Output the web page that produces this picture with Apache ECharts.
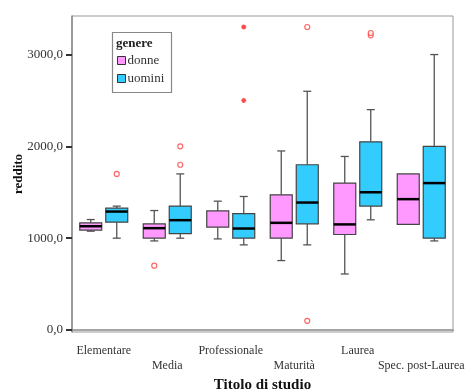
<!DOCTYPE html>
<html><head><meta charset="utf-8">
<script src="https://cdn.jsdelivr.net/npm/echarts@6/dist/echarts.min.js"></script>
<style>html,body{margin:0;padding:0;background:#fff}#c{width:470px;height:390px}</style>
</head><body><div id="c"></div>
<script>
var categories = ['Elementare','Media','Professionale','Maturità','Laurea','Spec. post-Laurea'];
// [min, Q1, median, Q3, max]
var donneBox = [
  [1076, 1087, 1130, 1166, 1203],
  [970, 1000, 1109, 1156, 1301],
  [992, 1120, 1297, 1297, 1403],
  [756, 1000, 1167, 1472, 1950],
  [610, 1040, 1150, 1600, 1890],
  [1150, 1150, 1425, 1700, 1700]
];
var uominiBox = [
  [1000, 1174, 1290, 1327, 1349],
  [1000, 1050, 1196, 1350, 1700],
  [927, 1000, 1105, 1268, 1454],
  [927, 1156, 1388, 1800, 2600],
  [1200, 1350, 1500, 2050, 2400],
  [970, 1000, 1600, 2000, 3000]
];
var donneOutliers = [[1, 700]];
var uominiOutliers = [[0, 1700], [1, 2000], [1, 1800], [3, 3300], [3, 100], [4, 3210], [4, 3235]];
var uominiExtremes = [[2, 3300], [2, 2500]];
var yTicks = [0, 1000, 2000, 3000];

var serif = '"Liberation Serif", "DejaVu Serif", serif';
var pink = '#ff99ff', cyan = '#33ccff';
var OFF = 13, HALF = 11, CAP = 4;

function boxRender(offset, fill) {
  return function (params, api) {
    var c = api.value(0);
    var x = api.coord([c, 0])[0] + offset;
    var lo = api.coord([c, api.value(1)])[1];
    var q1 = api.coord([c, api.value(2)])[1];
    var md = api.coord([c, api.value(3)])[1];
    var q3 = api.coord([c, api.value(4)])[1];
    var hi = api.coord([c, api.value(5)])[1];
    var ws = {stroke: '#555', lineWidth: 1.3};
    var ch = [];
    if (Math.abs(lo - q1) > 0.5) {
      ch.push({type: 'line', shape: {x1: x, y1: q1, x2: x, y2: lo}, style: ws});
      ch.push({type: 'line', shape: {x1: x - CAP, y1: lo, x2: x + CAP, y2: lo}, style: ws});
    }
    if (Math.abs(hi - q3) > 0.5) {
      ch.push({type: 'line', shape: {x1: x, y1: q3, x2: x, y2: hi}, style: ws});
      ch.push({type: 'line', shape: {x1: x - CAP, y1: hi, x2: x + CAP, y2: hi}, style: ws});
    }
    ch.push({type: 'rect', shape: {x: x - HALF, y: q3, width: 2 * HALF, height: q1 - q3},
      style: {fill: fill, stroke: '#444', lineWidth: 1.2}});
    if (Math.abs(md - q3) > 0.5 && Math.abs(md - q1) > 0.5) {
      ch.push({type: 'line', shape: {x1: x - HALF, y1: md, x2: x + HALF, y2: md},
        style: {stroke: '#000', lineWidth: 2.5}});
    }
    return {type: 'group', children: ch};
  };
}

function toData(arr) { return arr.map(function (r, i) { return [i].concat(r); }); }

var chart = echarts.init(document.getElementById('c'), null, {renderer: 'canvas'});
chart.setOption({
  animation: false,
  backgroundColor: '#fff',
  grid: {left: 72, right: 17, top: 16, bottom: 58, show: true, borderColor: '#999', borderWidth: 1,
    containLabel: false, outerBoundsMode: 'none'},
  legend: {
    data: [{name: 'donne', icon: 'rect'}, {name: 'uomini', icon: 'rect'}],
    orient: 'vertical', left: 117, top: 53.5, itemWidth: 8, itemHeight: 8, itemGap: 4,
    padding: 0,
    selectedMode: false,
    textStyle: {fontFamily: serif, fontSize: 13, lineHeight: 14, color: '#333', padding: [0, 0, 0, -3]},
    itemStyle: {borderColor: '#333', borderWidth: 1}
  },
  graphic: [
    {type: 'rect', left: 110, top: 30, shape: {width: 59, height: 60}, style: {fill: 'none', stroke: '#888', lineWidth: 1.2}, z: 10},
    {type: 'text', left: 116, top: 37, style: {text: 'genere', font: 'bold 13px ' + serif, fill: '#222'}, z: 10}
  ],
  xAxis: {
    type: 'category', data: categories, boundaryGap: true,
    name: 'Titolo di studio', nameLocation: 'middle', nameGap: 46, nameMoveOverlap: false,
    nameTextStyle: {fontFamily: serif, fontSize: 15, fontWeight: 'bold', color: '#111'},
    axisLine: {lineStyle: {color: '#888', width: 1.5}},
    axisTick: {alignWithLabel: true, interval: 0, length: 5, lineStyle: {color: '#333', width: 2}},
    axisLabel: {interval: 0, margin: 11, fontFamily: serif, fontSize: 12, color: '#333', lineHeight: 15,
      hideOverlap: false,
      formatter: function (v, i) { return i % 2 ? '\n' + v : v; }}
  },
  yAxis: {
    type: 'value', min: -22, max: 3420,
    name: 'reddito', nameLocation: 'middle', nameGap: 47, nameRotate: 90, nameMoveOverlap: false,
    nameTextStyle: {fontFamily: serif, fontSize: 13, fontWeight: 'bold', color: '#111'},
    splitLine: {show: false},
    axisLine: {show: true, lineStyle: {color: '#888', width: 1.5}},
    axisTick: {show: true, length: 6, customValues: yTicks, lineStyle: {color: '#333', width: 2}},
    axisLabel: {customValues: yTicks, margin: 9, fontFamily: serif, fontSize: 13, color: '#333',
      formatter: function (v) { return v.toFixed(1).replace('.', ','); }}
  },
  series: [
    {name: 'donne', type: 'custom', itemStyle: {color: pink}, renderItem: boxRender(-OFF, pink),
      encode: {x: 0, y: [1, 2, 3, 4, 5]}, data: toData(donneBox)},
    {name: 'uomini', type: 'custom', itemStyle: {color: cyan}, renderItem: boxRender(OFF, cyan),
      encode: {x: 0, y: [1, 2, 3, 4, 5]}, data: toData(uominiBox)},
    {name: 'donneOut', type: 'scatter', data: donneOutliers, symbol: 'circle', symbolSize: 5,
      symbolOffset: [-OFF, 0], itemStyle: {color: '#fff', borderColor: '#ff4040', borderWidth: 1.2}, z: 5},
    {name: 'uominiOut', type: 'scatter', data: uominiOutliers, symbol: 'circle', symbolSize: 5,
      symbolOffset: [OFF, 0], itemStyle: {color: '#fff', borderColor: '#ff4040', borderWidth: 1.2}, z: 5},
    {name: 'uominiExt', type: 'scatter', data: uominiExtremes,
      symbol: 'path://M5,0L5,10M0,5L10,5M1.5,1.5L8.5,8.5M8.5,1.5L1.5,8.5', symbolSize: 5,
      symbolOffset: [OFF, 0], itemStyle: {color: 'none', borderColor: '#ff2020', borderWidth: 1.3}, z: 5}
  ]
});
</script></body></html>
